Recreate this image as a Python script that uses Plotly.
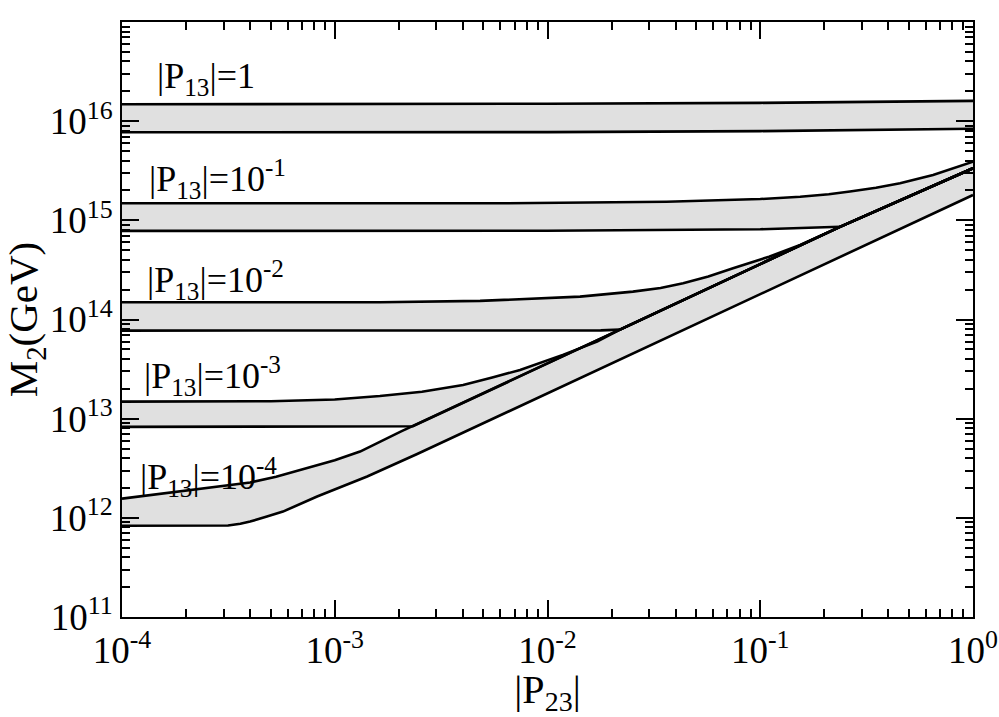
import plotly.graph_objects as go

# ---------------- data ----------------
# |P13| = 1
b0_up_x = [1e-4, 1e-3, 1e-2, 1e-1, 1.0]
b0_up_y = [1.48e16, 1.48e16, 1.50e16, 1.53e16, 1.60e16]
b0_lo_x = [1e-4, 1e-3, 1e-2, 1e-1, 1.0]
b0_lo_y = [7.73e15, 7.70e15, 7.76e15, 7.94e15, 8.4e15]

# |P13| = 1e-1
b1_up_x = [1e-4, 5.98e-3, 0.0363, 0.10, 0.154, 0.21, 0.264, 0.35, 0.454, 0.649, 1.0]
b1_up_y = [1.486e15, 1.486e15, 1.54e15, 1.64e15, 1.73e15, 1.83e15, 1.95e15, 2.13e15, 2.37e15, 2.87e15, 3.91e15]
b1_lo_x = [1e-4, 1e-2, 0.1, 0.237, 1.0]
b1_lo_y = [7.82e14, 7.85e14, 8.13e14, 8.6e14, 3.35e15]

# |P13| = 1e-2
b2_up_x = [1e-4, 1.63e-3, 4.82e-3, 0.01422, 0.0252, 0.034, 0.0434, 0.057, 0.0745, 0.11, 0.154, 0.237, 1.0]
b2_up_y = [1.493e14, 1.493e14, 1.54e14, 1.70e14, 1.91e14, 2.08e14, 2.32e14, 2.72e14, 3.29e14, 4.3e14, 5.65e14, 8.6e14, 3.35e15]
b2_lo_x = [1e-4, 1e-3, 0.0178, 0.0219, 0.237, 1.0]
b2_lo_y = [7.73e13, 7.73e13, 7.76e13, 7.9e13, 8.6e14, 3.35e15]

# |P13| = 1e-3
b3_up_x = [1e-4, 5.0e-4, 1.0e-3, 1.63e-3, 2.57e-3, 4.01e-3, 5.5e-3, 7.43e-3, 0.0118, 0.0171, 0.0219, 0.237, 1.0]
b3_up_y = [1.486e13, 1.50e13, 1.56e13, 1.69e13, 1.87e13, 2.19e13, 2.6e13, 3.10e13, 4.40e13, 5.98e13, 7.9e13, 8.6e14, 3.35e15]
b3_lo_x = [1e-4, 1e-3, 2.33e-3, 0.0219, 0.237, 1.0]
b3_lo_y = [8.26e12, 8.26e12, 8.38e12, 7.9e13, 8.6e14, 3.35e15]

# |P13| = 1e-4
b4_up_x = [1e-4, 2.33e-4, 4.0e-4, 5.3e-4, 6.87e-4, 1.0e-3, 1.315e-3, 2.04e-3, 0.0219, 0.237, 1.0]
b4_up_y = [1.56e12, 1.95e12, 2.27e12, 2.6e12, 3.05e12, 3.8e12, 4.66e12, 7.41e12, 7.9e13, 8.6e14, 3.35e15]
b4_lo_x = [1e-4, 1.78e-4, 3.15e-4, 3.6e-4, 4.0e-4, 4.8e-4, 5.71e-4, 8.26e-4, 1.42e-3, 2.44e-3, 1.0]
b4_lo_y = [8.32e11, 8.28e11, 8.36e11, 8.7e11, 9.18e11, 1.03e12, 1.156e12, 1.64e12, 2.61e12, 4.40e12, 1.80e15]

band_labels = ["|P<sub>13</sub>|=1", "|P<sub>13</sub>|=10<sup>-1</sup>",
               "|P<sub>13</sub>|=10<sup>-2</sup>", "|P<sub>13</sub>|=10<sup>-3</sup>",
               "|P<sub>13</sub>|=10<sup>-4</sup>"]
# label anchor positions (log10 of |P23| and of M2)
label_logx = [-3.845, -3.882, -3.892, -3.906, -3.925]
label_logy = [16.43, 15.42, 14.40, 13.43, 12.41]

x_tickvals = [1e-4, 1e-3, 1e-2, 1e-1, 1.0]
x_ticktext = ["10<sup>-4</sup>", "10<sup>-3</sup>", "10<sup>-2</sup>", "10<sup>-1</sup>", "10<sup>0</sup>"]
y_tickvals = [1e11, 1e12, 1e13, 1e14, 1e15, 1e16, 1e17]
y_ticktext = ["10<sup>11</sup>", "10<sup>12</sup>", "10<sup>13</sup>", "10<sup>14</sup>",
              "10<sup>15</sup>", "10<sup>16</sup>", "10<sup>17</sup>"]
x_minor = [m * 10.0 ** e for e in range(-4, 0) for m in range(2, 10)]
y_minor = [m * 10.0 ** e for e in range(11, 17) for m in range(2, 10)]

bands = [
    (b0_up_x, b0_up_y, b0_lo_x, b0_lo_y),
    (b1_up_x, b1_up_y, b1_lo_x, b1_lo_y),
    (b2_up_x, b2_up_y, b2_lo_x, b2_lo_y),
    (b3_up_x, b3_up_y, b3_lo_x, b3_lo_y),
    (b4_up_x, b4_up_y, b4_lo_x, b4_lo_y),
]

FONT = "Liberation Serif, Times New Roman, serif"
fig = go.Figure()

# fills
for ux, uy, lx, ly in bands:
    fig.add_trace(go.Scatter(
        x=list(ux) + list(lx)[::-1], y=list(uy) + list(ly)[::-1],
        mode="lines", fill="toself", fillcolor="#e0e0e0",
        line=dict(width=0), hoverinfo="skip", showlegend=False))
# boundary lines
for ux, uy, lx, ly in bands:
    for xs, ys in ((ux, uy), (lx, ly)):
        fig.add_trace(go.Scatter(x=xs, y=ys, mode="lines",
                                 line=dict(color="black", width=2.6),
                                 showlegend=False))

for txt, lxv, lyv in zip(band_labels, label_logx, label_logy):
    fig.add_annotation(x=lxv, y=lyv, xref="x", yref="y", text=txt,
                       showarrow=False, xanchor="left", yanchor="middle",
                       font=dict(family=FONT, size=36, color="black"))

axis_common = dict(
    type="log", showgrid=False, zeroline=False, showline=True,
    linecolor="black", linewidth=2, mirror="allticks",
    ticks="inside", ticklen=17, tickwidth=1.5, tickcolor="black",
    tickfont=dict(family=FONT, size=37, color="black"), automargin=False,
)

fig.update_xaxes(range=[-4, 0], tickmode="array", tickvals=x_tickvals, ticktext=x_ticktext,
                 minor=dict(ticks="inside", ticklen=8, tickwidth=1.5, tickcolor="black",
                            tickmode="array", tickvals=x_minor, showgrid=False),
                 title=dict(text="|P<sub>23</sub>|", font=dict(family=FONT, size=40, color="black"),
                            standoff=0),
                 **axis_common)
fig.update_yaxes(range=[11, 17], tickmode="array", tickvals=y_tickvals, ticktext=y_ticktext,
                 minor=dict(ticks="inside", ticklen=8, tickwidth=1.5, tickcolor="black",
                            tickmode="array", tickvals=y_minor, showgrid=False),
                 title=dict(text="M<sub>2</sub>(GeV)", font=dict(family=FONT, size=41, color="black"),
                            standoff=14),
                 **axis_common)

fig.update_layout(
    width=999, height=717, template="none",
    margin=dict(l=122, r=26, t=22, b=100),
    paper_bgcolor="white", plot_bgcolor="white",
    showlegend=False,
)

fig.write_html("out.html", config={"displayModeBar": False},
               post_script="document.body.style.margin='0';document.body.style.padding='0';")
